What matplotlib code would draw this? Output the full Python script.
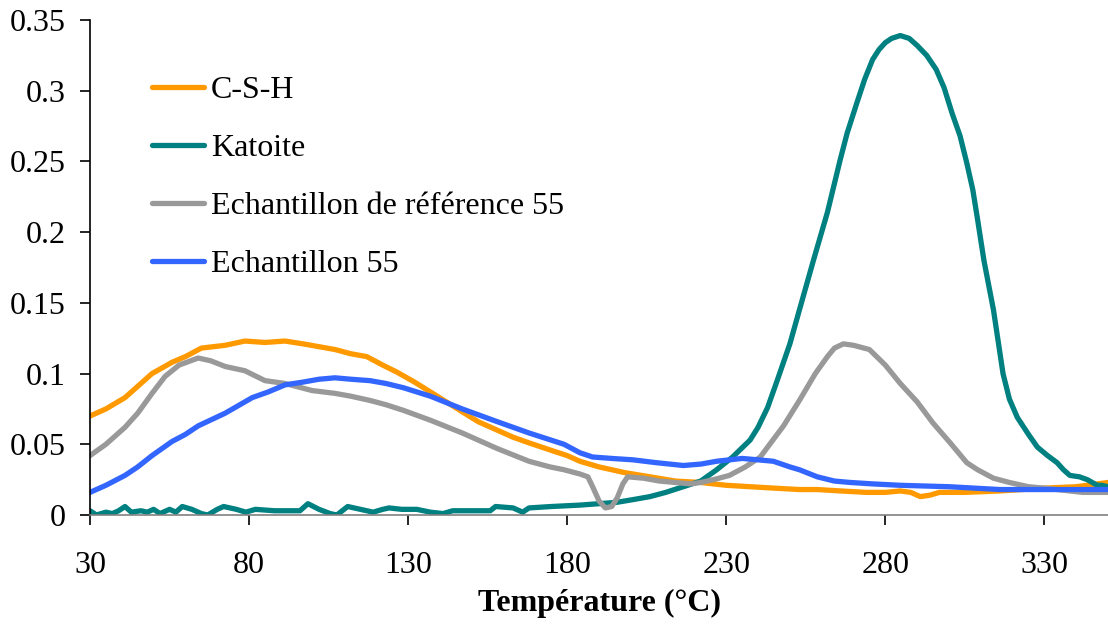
import numpy as np
import matplotlib.pyplot as plt
from matplotlib.ticker import FuncFormatter

plt.rcParams['font.family'] = ['Liberation Serif', 'DejaVu Serif']

# valeurs
x_csh = [30, 35, 41, 45, 49.5, 55.8, 60, 65, 72.5, 78.7, 85, 91.3, 97, 102, 107, 112, 117, 122,
         126.5, 132, 137, 142, 147, 152, 158, 163, 168, 174.6, 180, 184, 190, 198, 206, 214, 222,
         230, 237.5, 245, 253, 258.6, 266, 274, 280, 284.7, 288, 291, 294, 297, 305, 316, 330,
         340, 350]
y_csh = [0.070, 0.075, 0.083, 0.091, 0.100, 0.108, 0.112, 0.118, 0.120, 0.123, 0.122, 0.123,
         0.121, 0.119, 0.117, 0.114, 0.112, 0.106, 0.101, 0.094, 0.087, 0.080, 0.073, 0.066,
         0.060, 0.055, 0.051, 0.046, 0.042, 0.038, 0.034, 0.030, 0.027, 0.024, 0.023, 0.021,
         0.020, 0.019, 0.018, 0.018, 0.017, 0.016, 0.016, 0.017, 0.016, 0.013, 0.014, 0.016,
         0.016, 0.017, 0.019, 0.020, 0.023]

x_kat = [30, 32, 35, 37, 39, 41, 43, 46, 48, 50, 52, 55, 57, 59, 62, 65, 67, 70, 72, 76, 79, 82,
         88, 96, 98.5, 102, 105.5, 107.6, 111, 115, 119, 122, 124, 128, 132.7, 137, 141, 144,
         150, 155.8, 157.5, 163, 166, 168, 175, 184, 190, 195.7, 201, 206, 211, 216.5, 222, 227,
         232, 237.5, 240, 243, 246, 250, 253, 257.4, 261.8, 265.8, 268, 271, 273.5, 276, 278,
         280, 282, 284.7, 287.5, 290, 293, 296, 298.5, 301, 303.5, 305.6, 307.5, 309, 311, 314,
         317, 319, 321.5, 325, 327.8, 331, 334, 336, 338, 341, 343.5, 346.6, 348, 350]
y_kat = [0.003, 0.000, 0.002, 0.001, 0.003, 0.006, 0.002, 0.003, 0.002, 0.004, 0.001, 0.004,
         0.002, 0.006, 0.004, 0.001, 0.000, 0.004, 0.006, 0.004, 0.002, 0.004, 0.003, 0.003,
         0.008, 0.004, 0.001, 0.000, 0.006, 0.004, 0.002, 0.004, 0.005, 0.004, 0.004, 0.002,
         0.001, 0.003, 0.003, 0.003, 0.006, 0.005, 0.002, 0.005, 0.006, 0.007, 0.008, 0.009,
         0.011, 0.013, 0.016, 0.020, 0.024, 0.032, 0.041, 0.053, 0.062, 0.076, 0.095, 0.121,
         0.145, 0.180, 0.214, 0.251, 0.270, 0.291, 0.308, 0.322, 0.329, 0.334, 0.337, 0.339,
         0.337, 0.332, 0.325, 0.315, 0.302, 0.284, 0.268, 0.249, 0.230, 0.209, 0.180, 0.145,
         0.100, 0.082, 0.069, 0.057, 0.048, 0.042, 0.037, 0.032, 0.028, 0.027, 0.025, 0.021,
         0.021, 0.020]

x_ref = [30, 35, 41, 45, 49.5, 53.6, 58, 64, 68, 72.5, 78.7, 85, 91.3, 99.8, 107, 112, 118, 123,
         128.5, 137, 147, 158, 168, 174.6, 179, 184, 186.5, 188, 190, 192, 194, 195.7, 197.5,
         199, 204, 209, 214, 218.7, 222, 226, 231, 236, 240.7, 243, 248, 253, 258, 261.8, 264,
         266.8, 270, 275, 280, 284.7, 290, 295, 300.4, 305.6, 309, 314, 319, 325, 330, 342, 350]
y_ref = [0.042, 0.050, 0.062, 0.072, 0.086, 0.098, 0.106, 0.111, 0.109, 0.105, 0.102, 0.095,
         0.093, 0.088, 0.086, 0.084, 0.081, 0.078, 0.074, 0.067, 0.058, 0.047, 0.038, 0.034,
         0.032, 0.029, 0.027, 0.020, 0.010, 0.005, 0.006, 0.012, 0.022, 0.027, 0.026, 0.024,
         0.023, 0.022, 0.023, 0.025, 0.028, 0.034, 0.041, 0.048, 0.063, 0.081, 0.100, 0.112,
         0.118, 0.121, 0.120, 0.117, 0.106, 0.093, 0.080, 0.065, 0.051, 0.037, 0.032, 0.026,
         0.023, 0.020, 0.019, 0.016, 0.016]

x_e55 = [30, 35, 41, 45, 49.5, 55.8, 60, 64, 72.5, 81, 86, 91.3, 97, 102, 107, 112, 118, 123,
         128.5, 137, 147, 158, 168, 179, 184, 188, 194, 200.7, 208, 216.5, 222, 227, 235, 240,
         244.8, 250, 253, 258.6, 264, 269, 276, 284.7, 300, 316, 330, 350]
y_e55 = [0.016, 0.021, 0.028, 0.034, 0.042, 0.052, 0.057, 0.063, 0.072, 0.083, 0.087, 0.092,
         0.094, 0.096, 0.097, 0.096, 0.095, 0.093, 0.090, 0.084, 0.075, 0.066, 0.058, 0.050,
         0.044, 0.041, 0.040, 0.039, 0.037, 0.035, 0.036, 0.038, 0.040, 0.039, 0.038, 0.034,
         0.032, 0.027, 0.024, 0.023, 0.022, 0.021, 0.020, 0.018, 0.018, 0.018]

labels = ['C-S-H', 'Katoite', 'Echantillon de référence 55', 'Echantillon 55']
colors = ['#FF9900', '#008080', '#999999', '#3366FF']
x_ticks = [30, 80, 130, 180, 230, 280, 330]
y_ticks = [0, 0.05, 0.1, 0.15, 0.2, 0.25, 0.3, 0.35]

fig = plt.figure(figsize=(11.08, 6.28), dpi=100)
ax = fig.add_axes([90/1108, 113/628, 1018/1108, 495/628])

series = [(x_csh, y_csh), (x_kat, y_kat), (x_ref, y_ref), (x_e55, y_e55)]
for (xs, ys), lab, col in zip(series, labels, colors):
    ax.plot(xs, ys, color=col, lw=3.8, label=lab, solid_capstyle='round',
            solid_joinstyle='round')

ax.set_xlim(30, 350)
ax.set_ylim(0, 0.35)
ax.set_xticks(x_ticks)
ax.set_yticks(y_ticks)
ax.yaxis.set_major_formatter(FuncFormatter(lambda v, p: '%g' % v))
ax.tick_params(axis='both', labelsize=23, length=7.2, width=1.2, color='black')
ax.tick_params(axis='x', pad=19)
ax.tick_params(axis='y', pad=10)

ax.spines['top'].set_visible(False)
ax.spines['right'].set_visible(False)
ax.spines['bottom'].set_color('#808080')
ax.spines['bottom'].set_linewidth(1.2)
ax.spines['left'].set_linewidth(1.2)

ax.set_xlabel('Température (°C)', fontsize=23, fontweight='bold', labelpad=6)

ax.legend(loc='upper left', bbox_to_anchor=(152/1108, 1 - 76/628), bbox_transform=fig.transFigure,
          frameon=False, fontsize=23, handlelength=1.62, handletextpad=0.22,
          labelspacing=0.89, borderpad=0, borderaxespad=0)

fig.savefig('out.png', dpi=100)
